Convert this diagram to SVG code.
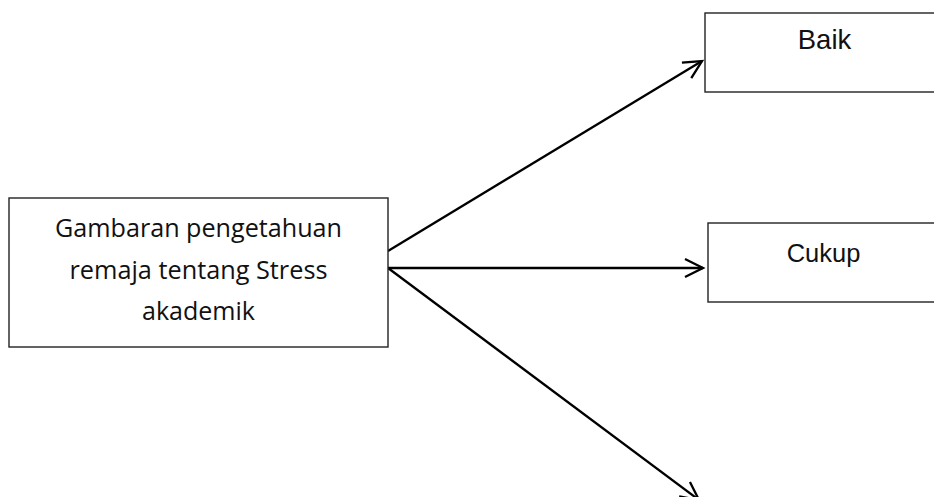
<svg xmlns="http://www.w3.org/2000/svg" width="934" height="497" viewBox="0 0 934 497">
<style>
.box{fill:#fff;stroke:#222;stroke-width:1.4}
.lbl{font-family:"Liberation Sans",Arial,sans-serif;font-size:26px;fill:#111;text-anchor:middle}
.main{font-family:"Open Sans","Noto Sans",sans-serif;font-size:25px;fill:#111;text-anchor:middle}
.conn{stroke:#000;stroke-width:2.3;fill:none;marker-end:url(#arr)}
</style>
<defs>
<marker id="arr" markerUnits="userSpaceOnUse" markerWidth="24" markerHeight="24" viewBox="-20 -12 24 24" refX="0" refY="0" orient="auto">
<path d="M-18,-9 L0,0 L-18,9" fill="none" stroke="#000" stroke-width="2.3"/>
</marker>
</defs>
<rect width="934" height="497" fill="#fff"/>
<g id="connectors">
<line class="conn" x1="388" y1="251" x2="702" y2="61"/>
<line class="conn" x1="388" y1="268" x2="703" y2="268"/>
<line class="conn" x1="388" y1="268" x2="699" y2="500"/>
</g>
<g id="node-main">
<rect class="box" x="9" y="198" width="379" height="149"/>
<text class="main" x="198.5" y="237" textLength="287" lengthAdjust="spacingAndGlyphs">Gambaran pengetahuan</text>
<text class="main" x="198.5" y="279" textLength="258" lengthAdjust="spacingAndGlyphs">remaja tentang Stress</text>
<text class="main" x="198.5" y="320" textLength="113" lengthAdjust="spacingAndGlyphs">akademik</text>
</g>
<g id="node-baik">
<rect class="box" x="705" y="13" width="240" height="79"/>
<text class="lbl" x="824.5" y="49" style="font-size:27.5px">Baik</text>
</g>
<g id="node-cukup">
<rect class="box" x="708" y="223" width="240" height="79"/>
<text class="lbl" x="823.5" y="262" style="font-size:25.5px">Cukup</text>
</g>
</svg>
